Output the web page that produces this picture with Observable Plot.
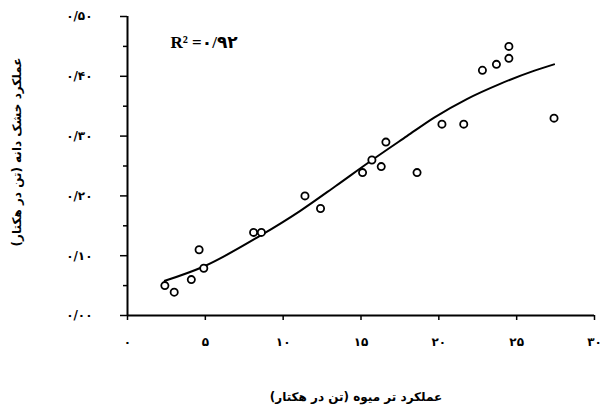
<!DOCTYPE html>
<html>
<head>
<meta charset="utf-8">
<script src="https://cdn.jsdelivr.net/npm/d3@7"></script>
<script src="https://cdn.jsdelivr.net/npm/@observablehq/plot@0.6"></script>
<style>
  body { margin: 0; background: #fff; }
</style>
</head>
<body>
<div id="chart"></div>
<script>
// Fruit (fresh) yield vs. grain dry yield, t/ha
const fruitYield = [2.4, 3.0, 4.1, 4.6, 4.9, 8.1, 8.6, 11.4, 12.4, 15.1, 15.7, 16.3, 16.6, 18.6, 20.2, 21.6, 22.8, 23.7, 24.5, 24.5, 27.4];
const grainYield = [0.050, 0.039, 0.060, 0.110, 0.079, 0.139, 0.139, 0.200, 0.179, 0.239, 0.260, 0.249, 0.290, 0.239, 0.320, 0.320, 0.410, 0.420, 0.430, 0.450, 0.330];

// Fitted trend line, sampled along its length
const fitX = [2.4, 4.9, 8.5, 11.1, 13.4, 15.6, 17.95, 19.7, 21.8, 23.9, 26.1, 27.4];
const fitY = [0.058, 0.082, 0.133, 0.175, 0.217, 0.258, 0.300, 0.331, 0.362, 0.387, 0.409, 0.420];

const xTicks = [0, 5, 10, 15, 20, 25, 30];
const yTicks = [0, 0.1, 0.2, 0.3, 0.4, 0.5];
const yMinorTicks = [0.05, 0.15, 0.25, 0.35, 0.45];

const xTitle = "عملکرد تر میوه (تن در هکتار)";
const yTitle = "عملکرد خشک دانه (تن در هکتار)";
const r2Label = "R² =۰/۹۲";

// Persian digits with "/" as the decimal separator
const faDigits = "۰۱۲۳۴۵۶۷۸۹";
const toPersian = s => String(s).replace(/\d/g, d => faDigits[d]).replace(".", "/");

const points = fruitYield.map((x, i) => ({x, y: grainYield[i]}));
const fit = fitX.map((x, i) => ({x, y: fitY[i]}));

const chart = Plot.plot({
  width: 603,
  height: 407,
  marginLeft: 127,
  marginRight: 9,
  marginTop: 16,
  marginBottom: 92,
  x: {domain: [0, 30]},
  y: {domain: [0, 0.5]},
  style: {
    background: "#fff",
    color: "#000",
    fontFamily: "'DejaVu Sans', sans-serif",
    fontWeight: "bold",
    fontSize: "12px"
  },
  marks: [
    Plot.axisX({
      ticks: xTicks,
      tickSize: 5,
      tickPadding: 17,
      strokeWidth: 1.5,
      tickFormat: d => toPersian(d),
      label: null
    }),
    Plot.axisY({
      ticks: yTicks,
      tickSize: 7,
      tickPadding: 28,
      strokeWidth: 1.5,
      tickFormat: d => toPersian(d3.format(".2f")(d)),
      label: null
    }),
    Plot.axisY({
      ticks: yMinorTicks,
      tickSize: 4,
      strokeWidth: 1.5,
      tickFormat: () => "",
      label: null
    }),
    Plot.ruleX([0], {stroke: "#000", strokeWidth: 2}),
    Plot.ruleY([0], {stroke: "#000", strokeWidth: 2}),
    Plot.line(fit, {x: "x", y: "y", curve: "monotone-x", stroke: "#000", strokeWidth: 2}),
    Plot.dot(points, {x: "x", y: "y", r: 3.6, stroke: "#000", strokeWidth: 1.8, fill: "#fff"}),
    Plot.text([r2Label], {
      frameAnchor: "top-left",
      dx: 43,
      dy: 19,
      textAnchor: "start",
      fontFamily: "'Liberation Serif', 'DejaVu Sans', serif",
      fontWeight: "bold",
      fontSize: 17
    }),
    Plot.text([xTitle], {
      frameAnchor: "bottom",
      dx: -5,
      dy: 82,
      textAnchor: "middle",
      lineAnchor: "middle",
      fontSize: 12,
      fontWeight: "bold"
    }),
    Plot.text([yTitle], {
      frameAnchor: "left",
      dx: -110,
      dy: -14,
      rotate: -90,
      textAnchor: "middle",
      lineAnchor: "middle",
      fontSize: 12,
      fontWeight: "bold"
    })
  ]
});

document.getElementById("chart").append(chart);
</script>
</body>
</html>
